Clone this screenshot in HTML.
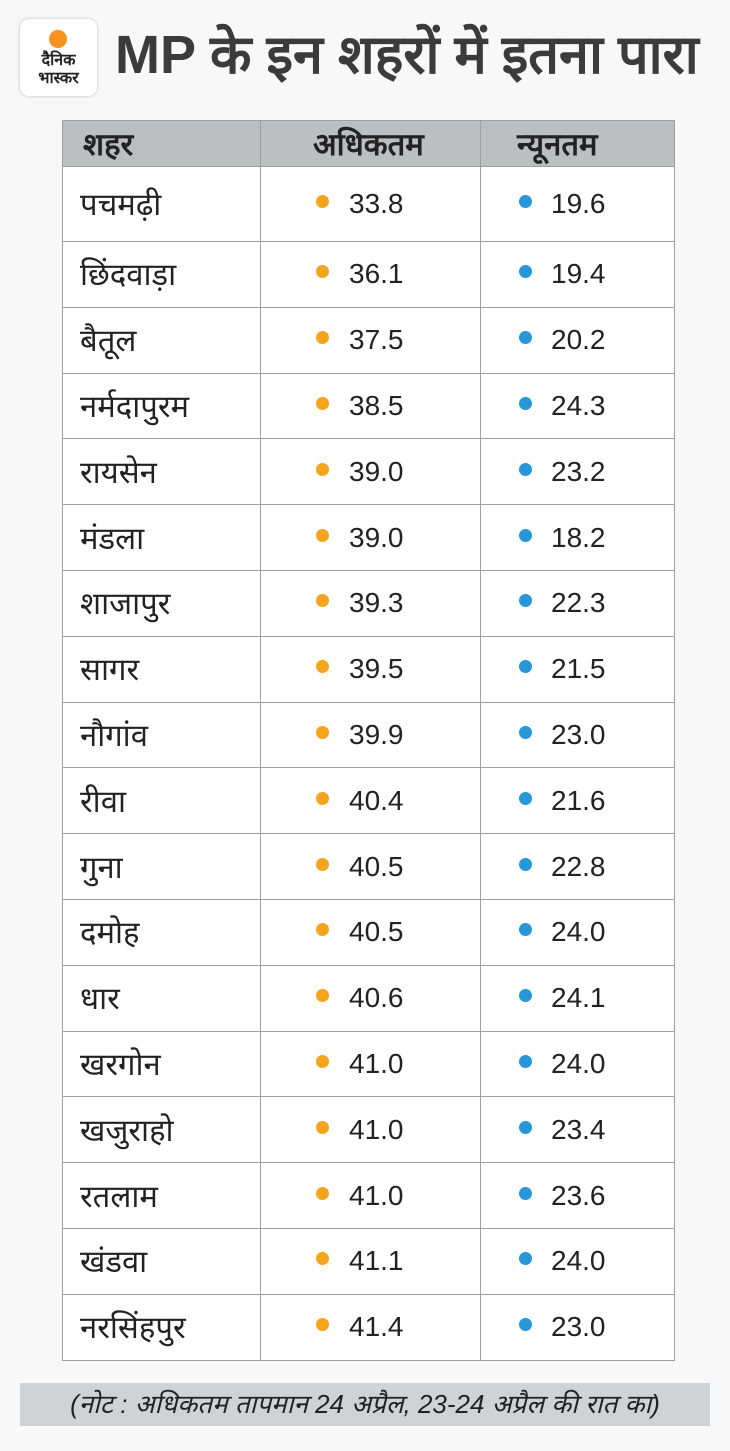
<!DOCTYPE html>
<html><head><meta charset="utf-8"><style>
body{margin:0;width:730px;height:1451px;background:#f8f8f8;position:relative;overflow:hidden;font-family:"Liberation Sans","Noto Sans CJK SC",sans-serif;color:#222}
.logo{position:absolute;left:20px;top:19px;width:77px;height:77px;background:#fff;border-radius:9px;box-shadow:0 0 3px rgba(0,0,0,.25)}
.logo .sun{position:absolute;left:29px;top:11px;width:18px;height:18px;border-radius:50%;background:#f7931e}
.logo .t{position:absolute;left:0;width:77px;text-align:center;font-weight:bold;font-size:16px;line-height:16px;color:#222}
h1{position:absolute;left:115px;top:22px;margin:0;font-size:54px;line-height:66px;font-weight:bold;color:#3b3b3b;white-space:nowrap}
table{position:absolute;left:62px;top:120px;border-collapse:collapse;width:612px;table-layout:fixed;background:#fff}
td,th{border:1px solid #a0a0a0;padding:0;box-sizing:border-box}
th{background:#bdbec0;height:46px;font-size:31px;font-weight:bold;text-align:left;color:#222;white-space:nowrap}
td{height:65.8px;font-size:31px}
tr.f td{height:75px}
td.c{padding-left:17px}
td.n{font-size:28px;position:relative}
td.n:before{content:"";position:absolute;top:50%;margin-top:-9px;width:13px;height:13px;border-radius:50%}
td.o{padding-left:88px}
td.o:before{background:#f5a41d;left:55px}
td.b{padding-left:70px}
td.b:before{background:#2697d8;left:38px}
.note{position:absolute;left:20px;top:1383px;width:690px;height:43px;background:#d1d2d4;text-align:center;font-style:italic;font-size:26px;line-height:43px;color:#222;white-space:nowrap}
</style></head><body>
<div class="logo"><div class="sun"></div><div class="t" style="top:34px">दैनिक</div><div class="t" style="top:52px">भास्कर</div></div>
<h1>MP के इन शहरों में इतना पारा</h1>
<table>
<colgroup><col style="width:198px"><col style="width:220px"><col style="width:194px"></colgroup>
<tr><th style="padding-left:20px">शहर</th><th style="padding-left:52px">अधिकतम</th><th style="padding-left:36px">न्यूनतम</th></tr>
<tr class="f"><td class="c">पचमढ़ी</td><td class="n o">33.8</td><td class="n b">19.6</td></tr>
<tr><td class="c">छिंदवाड़ा</td><td class="n o">36.1</td><td class="n b">19.4</td></tr>
<tr><td class="c">बैतूल</td><td class="n o">37.5</td><td class="n b">20.2</td></tr>
<tr><td class="c">नर्मदापुरम</td><td class="n o">38.5</td><td class="n b">24.3</td></tr>
<tr><td class="c">रायसेन</td><td class="n o">39.0</td><td class="n b">23.2</td></tr>
<tr><td class="c">मंडला</td><td class="n o">39.0</td><td class="n b">18.2</td></tr>
<tr><td class="c">शाजापुर</td><td class="n o">39.3</td><td class="n b">22.3</td></tr>
<tr><td class="c">सागर</td><td class="n o">39.5</td><td class="n b">21.5</td></tr>
<tr><td class="c">नौगांव</td><td class="n o">39.9</td><td class="n b">23.0</td></tr>
<tr><td class="c">रीवा</td><td class="n o">40.4</td><td class="n b">21.6</td></tr>
<tr><td class="c">गुना</td><td class="n o">40.5</td><td class="n b">22.8</td></tr>
<tr><td class="c">दमोह</td><td class="n o">40.5</td><td class="n b">24.0</td></tr>
<tr><td class="c">धार</td><td class="n o">40.6</td><td class="n b">24.1</td></tr>
<tr><td class="c">खरगोन</td><td class="n o">41.0</td><td class="n b">24.0</td></tr>
<tr><td class="c">खजुराहो</td><td class="n o">41.0</td><td class="n b">23.4</td></tr>
<tr><td class="c">रतलाम</td><td class="n o">41.0</td><td class="n b">23.6</td></tr>
<tr><td class="c">खंडवा</td><td class="n o">41.1</td><td class="n b">24.0</td></tr>
<tr><td class="c">नरसिंहपुर</td><td class="n o">41.4</td><td class="n b">23.0</td></tr>
</table>
<div class="note">(नोट : अधिकतम तापमान 24 अप्रैल, 23-24 अप्रैल की रात का)</div>
</body></html>
